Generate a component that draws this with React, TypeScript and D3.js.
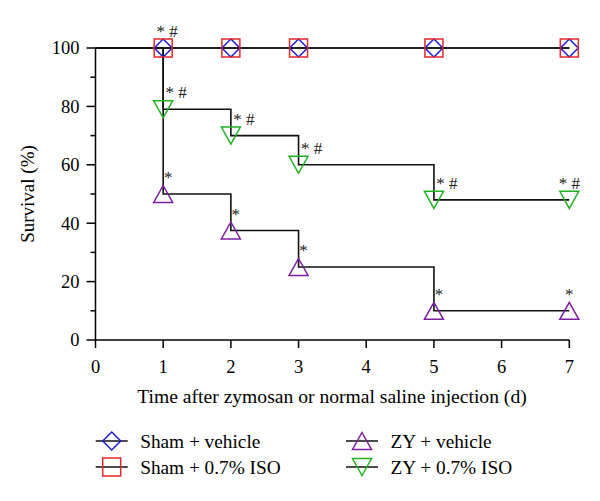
import React from "react";
import * as d3 from "d3";

// ---- data ----
const times = [0, 1, 2, 3, 5, 7];
const shamVehicle = [100, 100, 100, 100, 100, 100];
const shamISO = [100, 100, 100, 100, 100, 100];
const zyVehicle = [100, 50, 37.5, 25, 10, 10];
const zyISO = [100, 79, 70, 60, 48, 48];
const xTicks = [0, 1, 2, 3, 4, 5, 6, 7];
const yTicks = [0, 20, 40, 60, 80, 100];
const yMinorTicks = [10, 30, 50, 70, 90];
const seriesNames = ["Sham + vehicle", "Sham + 0.7% ISO", "ZY + vehicle", "ZY + 0.7% ISO"];
// significance marks: [time, label]
const shamMarks: [number, string][] = [[1, "*#"]];
const zyVehicleMarks: [number, string][] = [[1, "*"], [2, "*"], [3, "*"], [5, "*"], [7, "*"]];
const zyISOMarks: [number, string][] = [[1, "*#"], [2, "*#"], [3, "*#"], [5, "*#"], [7, "*#"]];

const W = 600;
const H = 501;
const FONT = "'Liberation Serif', 'Times New Roman', serif";

const x = d3.scaleLinear().domain([0, 7]).range([95.5, 569.3]);
const y = d3.scaleLinear().domain([0, 100]).range([340, 48]);

const colors = {
  diamond: "#1d1dd6",
  square: "#e5262a",
  up: "#7b1fa2",
  down: "#22b022",
};

type MarkerKind = "diamond" | "square" | "up" | "down";

function Marker({ kind, cx, cy }: { kind: MarkerKind; cx: number; cy: number }) {
  const sw = 1.5;
  if (kind === "square") {
    const s = 18;
    return <rect x={cx - s / 2} y={cy - s / 2} width={s} height={s} fill="none" stroke={colors.square} strokeWidth={sw} />;
  }
  if (kind === "diamond") {
    const r = 9;
    const d = `M${cx},${cy - r}L${cx + r},${cy}L${cx},${cy + r}L${cx - r},${cy}Z`;
    return <path d={d} fill="none" stroke={colors.diamond} strokeWidth={sw} />;
  }
  const w = 19;
  const h = 17;
  if (kind === "up") {
    const d = `M${cx},${cy - h / 2}L${cx + w / 2},${cy + h / 2}L${cx - w / 2},${cy + h / 2}Z`;
    return <path d={d} fill="none" stroke={colors.up} strokeWidth={sw} />;
  }
  const d = `M${cx - w / 2},${cy - h / 2}L${cx + w / 2},${cy - h / 2}L${cx},${cy + h / 2}Z`;
  return <path d={d} fill="none" stroke={colors.down} strokeWidth={sw} />;
}

const series: { values: number[]; kind: MarkerKind }[] = [
  { values: shamVehicle, kind: "diamond" },
  { values: shamISO, kind: "square" },
  { values: zyVehicle, kind: "up" },
  { values: zyISO, kind: "down" },
];

const stepLine = d3
  .line<[number, number]>()
  .x((d) => x(d[0]))
  .y((d) => y(d[1]))
  .curve(d3.curveStepAfter);

export default function App() {
  const valueAt = (vals: number[], t: number) => vals[times.indexOf(t)];
  const lastT = times[times.length - 1];

  const markLabel = (vals: number[], marks: [number, string][], dxMid: number, key: string) =>
    marks.map(([t, label], i) => {
      const cx = x(t);
      const cy = y(valueAt(vals, t));
      const dx = t === lastT ? 0 : dxMid;
      return (
        <text
          key={key + i}
          x={cx + dx}
          y={cy - 11}
          textAnchor="middle"
          fontFamily={FONT}
          fontSize={17}
          fill="#222"
        >
          {label.split("").join(" ")}
        </text>
      );
    });

  return (
    <svg width={W} height={H} style={{ position: "absolute", left: 0, top: 0, background: "#fff" }}>
      <rect width={W} height={H} fill="#fff" />
      {/* Y axis */}
      <line x1={x(0)} x2={x(0)} y1={y(0)} y2={y(100)} stroke="#000" strokeWidth={1.5} />
      {yTicks.map((t) => (
        <g key={"yt" + t}>
          <line x1={x(0) - 9} x2={x(0)} y1={y(t)} y2={y(t)} stroke="#000" strokeWidth={1.5} />
          <text x={x(0) - 16} y={y(t)} dy="0.35em" textAnchor="end" fontFamily={FONT} fontSize={18.5} fill="#000">
            {t}
          </text>
        </g>
      ))}
      {yMinorTicks.map((t) => (
        <line key={"ym" + t} x1={x(0) - 5} x2={x(0)} y1={y(t)} y2={y(t)} stroke="#000" strokeWidth={1.5} />
      ))}
      {/* X axis */}
      <line x1={x(0)} x2={x(7)} y1={y(0)} y2={y(0)} stroke="#000" strokeWidth={1.5} />
      {xTicks.map((t) => (
        <g key={"xt" + t}>
          <line x1={x(t)} x2={x(t)} y1={y(0)} y2={y(0) + 8} stroke="#000" strokeWidth={1.5} />
          <text x={x(t)} y={373} textAnchor="middle" fontFamily={FONT} fontSize={18.5} fill="#000">
            {t}
          </text>
        </g>
      ))}
      <text x={332} y={403} textAnchor="middle" fontFamily={FONT} fontSize={19.6} fill="#000">
        Time after zymosan or normal saline injection (d)
      </text>
      <text
        transform={`translate(34,${(y(0) + y(100)) / 2}) rotate(-90)`}
        textAnchor="middle"
        fontFamily={FONT}
        fontSize={19}
        fill="#000"
      >
        Survival (%)
      </text>

      {/* step lines */}
      {series.map((s, i) => (
        <path
          key={"l" + i}
          d={stepLine(times.map((t, j) => [t, s.values[j]] as [number, number])) || ""}
          fill="none"
          stroke="#111"
          strokeWidth={1.6}
        />
      ))}
      {/* markers */}
      {series.map((s, i) =>
        times
          .filter((t) => t > 0)
          .map((t) => <Marker key={"m" + i + "-" + t} kind={s.kind} cx={x(t)} cy={y(valueAt(s.values, t))} />)
      )}
      {/* significance labels */}
      {markLabel(shamISO, shamMarks, 4, "sm")}
      {markLabel(zyVehicle, zyVehicleMarks, 5, "zv")}
      {markLabel(zyISO, zyISOMarks, 13, "zi")}

      {/* legend */}
      {seriesNames.map((name, i) => {
        const col = i < 2 ? 0 : 1;
        const row = i % 2;
        const lx = col === 0 ? 111.7 : 362;
        const ly = row === 0 ? 441 : 467;
        return (
          <g key={"lg" + i}>
            <line x1={lx - 16} x2={lx + 16} y1={ly} y2={ly} stroke="#111" strokeWidth={1.5} />
            <Marker kind={series[i].kind} cx={lx} cy={ly} />
            <text x={lx + 28.5} y={ly} dy="0.35em" fontFamily={FONT} fontSize={19.3} fill="#000">
              {name}
            </text>
          </g>
        );
      })}
    </svg>
  );
}
